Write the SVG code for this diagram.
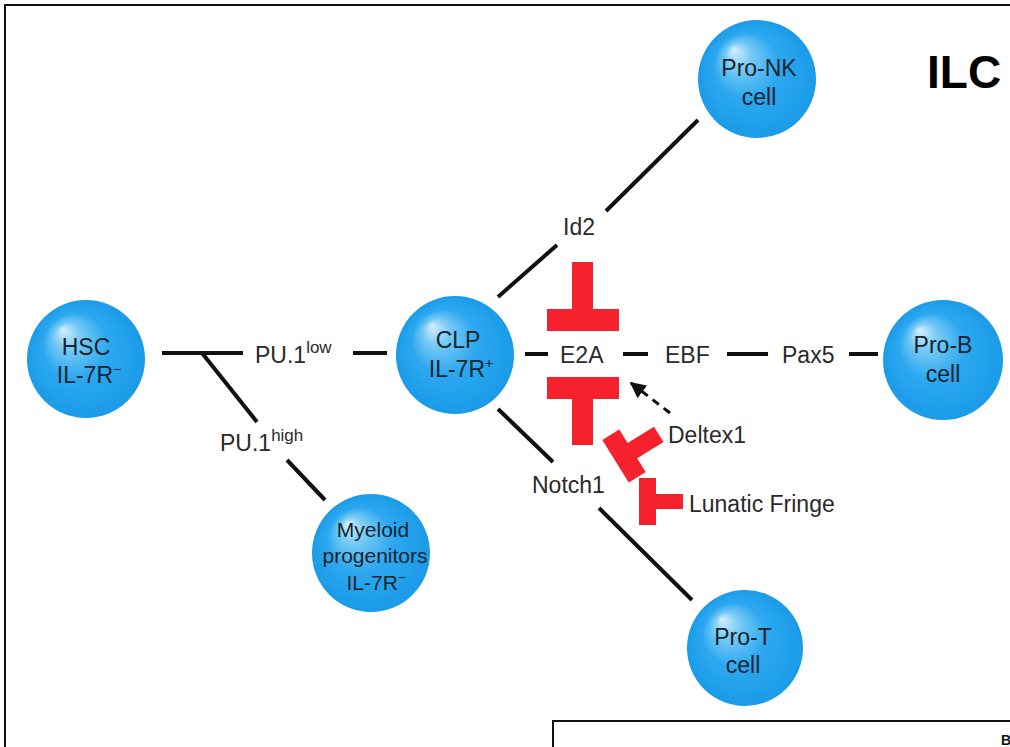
<svg xmlns="http://www.w3.org/2000/svg" width="1010" height="747" viewBox="0 0 1010 747">
<defs>
<radialGradient id="cellGrad" cx="0.5" cy="0.5" r="0.5" fx="0.3" fy="0.25">
<stop offset="0" stop-color="#d6effc"/>
<stop offset="0.22" stop-color="#78caf5"/>
<stop offset="0.55" stop-color="#2ca8f0"/>
<stop offset="1" stop-color="#1a9be8"/>
</radialGradient>
<marker id="arrowHead" viewBox="0 0 10 10" refX="9" refY="5" markerWidth="16" markerHeight="16" markerUnits="userSpaceOnUse" orient="auto">
<path d="M0,0 L10,5 L0,10 z" fill="#111"/>
</marker>
</defs>
<style>
.cell{fill:url(#cellGrad);}
.ct{font-family:"Liberation Sans",Arial,sans-serif;font-size:23px;fill:#15252e;text-anchor:middle;}
.ctm{font-family:"Liberation Sans",Arial,sans-serif;font-size:21px;fill:#15252e;text-anchor:middle;}
.lbl{font-family:"Liberation Sans",Arial,sans-serif;font-size:23px;fill:#2a2a2a;}
.sup{font-size:17px;}
.ln{stroke:#111;stroke-width:4;fill:none;}
.dash{stroke:#111;stroke-width:3;fill:none;stroke-dasharray:8,6;}
.inh{fill:#f5222d;}
</style>
<rect x="5" y="5" width="1100" height="1000" fill="#fff" stroke="#111" stroke-width="2"/>
<rect x="553" y="721" width="600" height="200" fill="#fff" stroke="#111" stroke-width="2"/>
<text x="1001" y="745" font-family="Liberation Sans,Arial,sans-serif" font-size="14" font-weight="bold" fill="#111">B</text>
<text x="927" y="88" font-family="Liberation Sans,Arial,sans-serif" font-size="46" font-weight="bold" fill="#000">ILC</text>

<g id="connectors">
<line class="ln" x1="162" y1="353" x2="243" y2="353"/>
<line class="ln" x1="353" y1="353" x2="387" y2="353"/>
<line class="ln" x1="202" y1="353" x2="257" y2="422"/>
<line class="ln" x1="287" y1="460" x2="325" y2="500"/>
<line class="ln" x1="498" y1="297" x2="557" y2="245"/>
<line class="ln" x1="606" y1="211" x2="698" y2="120"/>
<line class="ln" x1="525" y1="354" x2="548" y2="354"/>
<line class="ln" x1="623" y1="354" x2="648" y2="354"/>
<line class="ln" x1="727" y1="354" x2="768" y2="354"/>
<line class="ln" x1="849" y1="354" x2="878" y2="354"/>
<line class="ln" x1="498" y1="409" x2="553" y2="462"/>
<line class="ln" x1="599" y1="508" x2="692" y2="600"/>
<line class="dash" x1="670" y1="413" x2="631" y2="383" marker-end="url(#arrowHead)"/>
</g>

<g id="labels">
<text class="lbl" x="255" y="363">PU.1<tspan class="sup" dy="-10">low</tspan></text>
<text class="lbl" x="220" y="451">PU.1<tspan class="sup" dy="-10">high</tspan></text>
<text class="lbl" x="563" y="235">Id2</text>
<text class="lbl" x="560" y="363">E2A</text>
<text class="lbl" x="665" y="363">EBF</text>
<text class="lbl" x="782" y="363">Pax5</text>
<text class="lbl" x="532" y="493">Notch1</text>
<text class="lbl" x="668" y="443">Deltex1</text>
<text class="lbl" x="689" y="512">Lunatic Fringe</text>
</g>

<g id="inhibitors">
<g id="inh-id2"><rect class="inh" x="572" y="262" width="21" height="48"/><rect class="inh" x="547" y="309" width="72" height="22"/></g>
<g id="inh-notch1"><rect class="inh" x="547" y="377" width="72" height="22"/><rect class="inh" x="572" y="398" width="21" height="47"/></g>
<g id="inh-deltex1" transform="translate(624,456) rotate(-32)"><rect class="inh" x="-10" y="-25" width="20" height="50"/><rect class="inh" x="9" y="-9" width="32" height="18"/></g>
<g id="inh-lunatic"><rect class="inh" x="639" y="478" width="17" height="47"/><rect class="inh" x="655" y="494" width="28" height="15"/></g>
</g>

<g id="node-hsc"><circle class="cell" cx="86" cy="359" r="59"/><text class="ct" x="86" y="355">HSC</text><text class="ct" x="89" y="383">IL-7R<tspan dy="-9" font-size="14">−</tspan></text></g>
<g id="node-clp"><circle class="cell" cx="455" cy="355" r="59"/><text class="ct" x="458" y="348">CLP</text><text class="ct" x="461" y="377">IL-7R<tspan dy="-9" font-size="14">+</tspan></text></g>
<g id="node-pronk"><circle class="cell" cx="757" cy="79" r="59"/><text class="ct" x="759" y="76">Pro-NK</text><text class="ct" x="759" y="105">cell</text></g>
<g id="node-prob"><circle class="cell" cx="943" cy="360" r="60"/><text class="ct" x="943" y="353">Pro-B</text><text class="ct" x="943" y="382">cell</text></g>
<g id="node-myeloid"><circle class="cell" cx="371" cy="553" r="59"/><text class="ctm" x="373" y="537">Myeloid</text><text class="ctm" x="375" y="563">progenitors</text><text class="ctm" x="376" y="590">IL-7R<tspan dy="-8" font-size="13">−</tspan></text></g>
<g id="node-prot"><circle class="cell" cx="745" cy="648" r="58"/><text class="ct" x="743" y="645">Pro-T</text><text class="ct" x="743" y="673">cell</text></g>
</svg>
